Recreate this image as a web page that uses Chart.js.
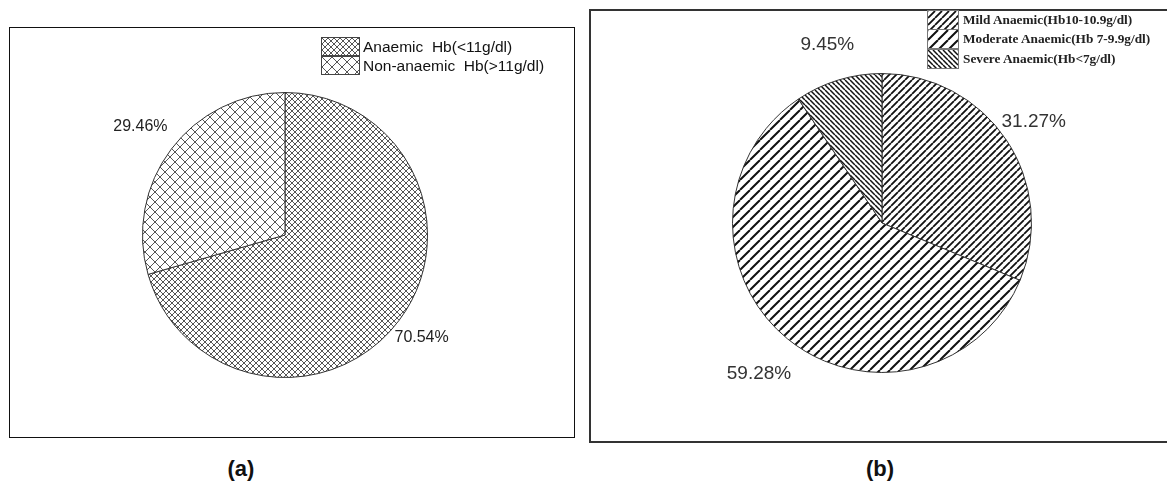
<!DOCTYPE html>
<html>
<head>
<meta charset="utf-8">
<script src="https://cdn.jsdelivr.net/npm/chart.js@4.4.1/dist/chart.umd.min.js"></script>
<style>
  body { margin: 0; width: 1167px; height: 486px; background: #fff; position: relative; overflow: hidden;
         font-family: "Liberation Sans", Arial, sans-serif; color: #111; }
  .frame { position: absolute; box-sizing: border-box; }
  #frameA { left: 9px; top: 27px; width: 566px; height: 411px; border: 1.5px solid #111; }
  #frameB { left: 589px; top: 9px; width: 600px; height: 434px; border: 2px solid #333; }
  canvas.pie { position: absolute; }
  #chartA { left: 10px; top: 27px; }
  #chartB { left: 590px; top: 10px; }
  .legend { position: absolute; }
  .legend .row { display: flex; align-items: center; white-space: pre; }
  .legend canvas { display: block; box-sizing: border-box; }
  #legendA { left: 321px; top: 37px; font-size: 15.5px; }
  #legendA .row { height: 19px; }
  #legendA canvas { margin-right: 3px; border: 1px solid #444; }
  #legendB { left: 927px; top: 10px; font-family: "Liberation Serif", serif; font-weight: bold; font-size: 13.3px; color: #222; }
  #legendB .row { height: 19.5px; }
  #legendB canvas { margin-right: 4px; border: 1px solid #777; }
  .caption { position: absolute; top: 456px; font-weight: bold; font-size: 22px; width: 100px; text-align: center; }
</style>
</head>
<body>
<div class="frame" id="frameA"></div>
<div class="frame" id="frameB"></div>
<canvas class="pie" id="chartA" width="564" height="410"></canvas>
<canvas class="pie" id="chartB" width="577" height="432"></canvas>
<div class="legend" id="legendA"></div>
<div class="legend" id="legendB"></div>
<div class="caption" style="left:191px">(a)</div>
<div class="caption" style="left:830px">(b)</div>
<script>
// (a) anaemia overall
var categoriesA = ["Anaemic  Hb(<11g/dl)", "Non-anaemic  Hb(>11g/dl)"];
var percentA = [70.54, 29.46];

// (b) grade of anaemia
var categoriesB = ["Mild Anaemic(Hb10-10.9g/dl)", "Moderate Anaemic(Hb 7-9.9g/dl)", "Severe Anaemic(Hb<7g/dl)"];
var percentB = [31.27, 59.28, 9.45];

// hatch tile: dir is "/", "\\" or "x"
function hatch(size, width, color, dir) {
    var c = document.createElement("canvas");
    c.width = size;
    c.height = size;
    var g = c.getContext("2d");
    g.fillStyle = "#fff";
    g.fillRect(0, 0, size, size);
    g.strokeStyle = color;
    g.lineWidth = width;
    g.beginPath();
    for (var k = -1; k <= 1; k++) {
        if (dir == "/" || dir == "x") {
            g.moveTo(k * size, size);
            g.lineTo(k * size + size, 0);
        }
        if (dir == "\\" || dir == "x") {
            g.moveTo(k * size, 0);
            g.lineTo(k * size + size, size);
        }
    }
    g.stroke();
    return g.createPattern(c, "repeat");
}

var fillsA = [hatch(6, 1, "#555", "x"), hatch(10, 1, "#555", "x")];
var fillsB = [hatch(7, 1.8, "#111", "/"), hatch(10, 2, "#111", "/"), hatch(5, 1.5, "#111", "\\")];

// percentage labels outside the slices
var pctLabels = {
    id: "pctLabels",
    afterDatasetsDraw: function(chart, args, opts) {
        var ctx = chart.ctx;
        var values = chart.data.datasets[0].data;
        ctx.save();
        ctx.font = opts.font;
        ctx.fillStyle = opts.color;
        ctx.textAlign = "center";
        ctx.textBaseline = "middle";
        chart.getDatasetMeta(0).data.forEach(function(arc, i) {
            var p = arc.getProps(["x", "y", "startAngle", "endAngle", "outerRadius"], true);
            var mid = (p.startAngle + p.endAngle) / 2;
            var d = p.outerRadius * opts.dist[i];
            ctx.fillText(values[i].toFixed(2) + "%", p.x + Math.cos(mid) * d, p.y + Math.sin(mid) * d);
        });
        ctx.restore();
    }
};

function makePie(id, labels, values, fills, border, padding, labelOpts) {
    return new Chart(document.getElementById(id), {
        type: "pie",
        data: {
            labels: labels,
            datasets: [{
                data: values,
                backgroundColor: fills,
                borderColor: border,
                borderWidth: 1
            }]
        },
        options: {
            responsive: false,
            animation: false,
            events: [],
            layout: { padding: padding },
            plugins: {
                legend: { display: false },
                tooltip: { enabled: false },
                pctLabels: labelOpts
            }
        },
        plugins: [pctLabels]
    });
}

function htmlLegend(chart, el, w, h) {
    var items = Chart.overrides.pie.plugins.legend.labels.generateLabels(chart);
    items.forEach(function(item) {
        var row = document.createElement("div");
        row.className = "row";
        var sw = document.createElement("canvas");
        sw.width = w;
        sw.height = h;
        var g = sw.getContext("2d");
        g.fillStyle = item.fillStyle;
        g.fillRect(0, 0, w, h);
        row.appendChild(sw);
        row.appendChild(document.createTextNode(item.text));
        el.appendChild(row);
    });
}

var chartA = makePie("chartA", categoriesA, percentA, fillsA, "#333",
    { left: 132, right: 146, top: 65, bottom: 59 },
    { font: "16px 'Liberation Sans', Arial", color: "#222", dist: [1.2, 1.27] });

var chartB = makePie("chartB", categoriesB, percentB, fillsB, "#333",
    { left: 142, right: 135, top: 63, bottom: 69 },
    { font: "19px 'Liberation Sans', Arial", color: "#333", dist: [1.22, 1.3, 1.25] });

htmlLegend(chartA, document.getElementById("legendA"), 37, 17);
htmlLegend(chartB, document.getElementById("legendB"), 30, 18);
</script>
</body>
</html>
